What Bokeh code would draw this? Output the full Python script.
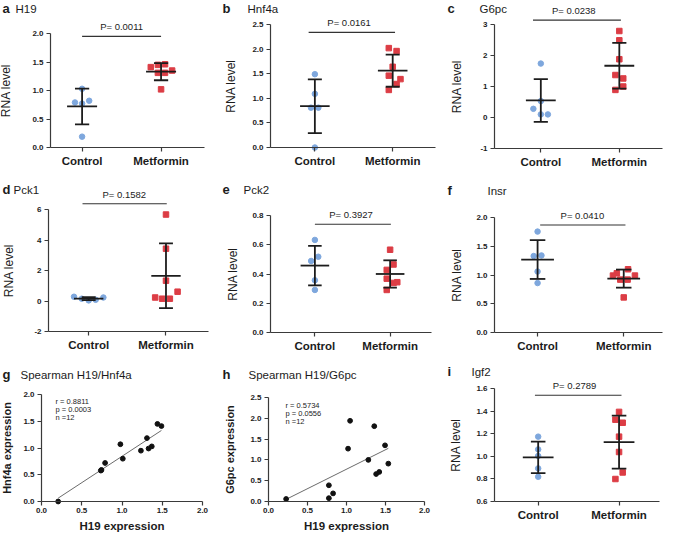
import numpy as np
from bokeh.plotting import figure
from bokeh.models import Range1d, FixedTicker, PrintfTickFormatter, Label
from bokeh.layouts import row, column
from bokeh.embed import file_html
from bokeh.resources import INLINE

categories = ["Control", "Metformin"]

# ---- data ----
# a  H19
h19_ctrl = [1.03, 0.79, 0.77, 0.82, 0.19]
h19_ctrl_jit = [0.0, -0.09, 0.0, 0.09, 0.0]
h19_met = [1.41, 1.45, 1.46, 1.31, 1.31, 1.35, 1.02]
h19_met_jit = [-0.13, -0.04, 0.05, -0.04, 0.05, 0.14, 0.0]
h19_p = "P= 0.0011"

# b  Hnf4a
hnf4a_ctrl = [1.49, 1.09, 0.81, 0.81, 0.0]
hnf4a_ctrl_jit = [0.0, 0.0, -0.05, 0.045, 0.0]
hnf4a_met = [2.02, 1.96, 1.64, 1.46, 1.39, 1.29, 1.17]
hnf4a_met_jit = [-0.05, 0.05, 0.0, -0.05, 0.1, 0.05, -0.05]
hnf4a_p = "P= 0.0161"

# c  G6pc
g6pc_ctrl = [1.74, 0.53, 0.28, 0.10, 0.10]
g6pc_ctrl_jit = [0.0, 0.0, -0.095, 0.0, 0.09]
g6pc_met = [2.79, 2.49, 1.88, 1.37, 1.26, 0.89, 1.00]
g6pc_met_jit = [0.0, 0.0, 0.0, -0.05, 0.05, -0.05, 0.05]
g6pc_p = "P= 0.0238"

# d  Pck1
pck1_ctrl = [0.28, 0.15, 0.04, 0.08, 0.23]
pck1_ctrl_jit = [-0.19, -0.09, 0.0, 0.09, 0.19]
pck1_met = [5.67, 3.43, 1.33, 0.61, 0.23, 0.15, 0.15]
pck1_met_jit = [0.0, 0.0, 0.0, 0.15, -0.14, -0.05, 0.05]
pck1_p = "P= 0.1582"

# e  Pck2
pck2_ctrl = [0.633, 0.518, 0.489, 0.357, 0.291]
pck2_ctrl_jit = [0.0, 0.045, -0.05, 0.0, 0.0]
pck2_met = [0.566, 0.465, 0.428, 0.368, 0.339, 0.344, 0.291]
pck2_met_jit = [0.0, 0.045, -0.045, -0.045, 0.045, 0.095, -0.045]
pck2_p = "P= 0.3927"

# f  Insr
insr_ctrl = [1.755, 1.33, 1.34, 1.06, 0.86]
insr_ctrl_jit = [0.0, -0.045, 0.045, 0.0, 0.0]
insr_met = [1.10, 1.03, 0.99, 0.99, 0.92, 0.92, 0.61]
insr_met_jit = [0.05, -0.08, -0.125, 0.13, -0.04, 0.045, 0.0]
insr_p = "P= 0.0410"

# i  Igf2
igf2_ctrl = [1.174, 1.061, 1.003, 0.893, 0.819]
igf2_ctrl_jit = [0.0, 0.0, 0.0, 0.0, 0.0]
igf2_met = [1.393, 1.324, 1.297, 1.174, 1.038, 0.857, 0.799]
igf2_met_jit = [0.0, -0.045, 0.045, 0.0, 0.0, 0.045, -0.045]
igf2_p = "P= 0.2789"

# g  Spearman H19/Hnf4a
g_h19 = [0.207, 0.737, 0.745, 0.79, 0.98, 1.01, 1.235, 1.31, 1.33, 1.37, 1.44, 1.49]
g_hnf4a = [0.0, 0.578, 0.59, 0.72, 1.07, 0.80, 0.95, 1.185, 0.99, 1.03, 1.45, 1.41]
g_stats = ["r = 0.8811", "p = 0.0003", "n =12"]

# h  Spearman H19/G6pc
h_h19 = [0.226, 0.774, 0.774, 0.828, 1.02, 1.046, 1.28, 1.356, 1.38, 1.42, 1.494, 1.536]
h_g6pc = [0.06, 0.39, 0.08, 0.195, 1.27, 1.94, 1.0, 1.81, 0.66, 0.71, 1.35, 0.91]
h_stats = ["r = 0.5734", "p = 0.0556", "n =12"]

# ---- styling ----
FONT = "Liberation Sans"
INK = "#1c1c1c"
AX = "#3a3a3a"
BLUE = "#7ea7dd"
RED = "#dc3d45"


def style_axis(ax):
    ax.axis_line_color = AX
    ax.axis_line_width = 1.2
    ax.major_tick_line_color = AX
    ax.major_tick_line_width = 1.2
    ax.major_tick_in = 0
    ax.major_tick_out = 4
    ax.minor_tick_line_color = None
    ax.major_label_text_font = FONT
    ax.major_label_text_font_style = "bold"
    ax.major_label_text_font_size = "8px"
    ax.major_label_text_color = INK
    ax.major_label_standoff = 3
    ax.axis_label_text_font = FONT
    ax.axis_label_text_color = INK


def base(L):
    """Frame fills the whole panel; axes are pinned with fixed_location."""
    W, H = L["W"], L["H"]
    xr0, xr1 = L["x"]
    lo, hi = L["y"]
    ppx = (L["right"] - L["left"]) / (xr1 - xr0)
    ppy = (L["bottom"] - L["top_tick"]) / (hi - lo)
    x_range = Range1d(xr0 - L["left"] / ppx, xr1 + (W - L["right"]) / ppx)
    y_range = Range1d(lo - (H - L["bottom"]) / ppy, hi + L["top_tick"] / ppy)
    p = figure(width=W, height=H, x_range=x_range, y_range=y_range,
               output_backend="svg", toolbar_location=None, min_border=0)
    p.outline_line_color = None
    p.xgrid.visible = False
    p.ygrid.visible = False
    p.background_fill_color = "white"
    p.border_fill_color = "white"
    style_axis(p.xaxis[0])
    style_axis(p.yaxis[0])
    p.yaxis.fixed_location = xr0
    p.xaxis.fixed_location = lo
    ticks = [round(lo + k * L["step"], 6) for k in range(int(round((hi - lo) / L["step"])) + 1)]
    p.yaxis.ticker = FixedTicker(ticks=ticks)
    p.yaxis.formatter = PrintfTickFormatter(format=L["fmt"])
    p.yaxis.bounds = (lo, hi)
    p.xaxis.bounds = (xr0, xr1)
    # panel letter and title
    ty = H - L["title_y"]
    p.add_layout(Label(x=2, y=ty, x_units="screen", y_units="screen",
                       text=L["letter"], text_font=FONT, text_font_style="bold",
                       text_font_size="13px", text_baseline="middle", text_color=INK))
    p.add_layout(Label(x=L["gene_x"], y=ty, x_units="screen", y_units="screen",
                       text=L["gene"], text_font=FONT, text_font_size="11.5px",
                       text_baseline="middle", text_color=INK))
    return p


def cat_panel(L, ctrl, ctrl_jit, met, met_jit, ptext):
    p = base(L)
    p.xaxis.ticker = FixedTicker(ticks=[1, 2])
    p.xaxis.major_label_overrides = {i + 1: c for i, c in enumerate(categories)}
    p.xaxis.major_label_text_font_size = "11.5px"
    p.xaxis.major_label_standoff = 3
    p.yaxis.axis_label = "RNA level"
    p.yaxis.axis_label_text_font_size = "12px"
    p.yaxis.axis_label_text_font_style = "normal"
    p.yaxis.axis_label_standoff = L["ylab_standoff"]

    p.scatter([1 + j for j in ctrl_jit], ctrl, marker="circle", size=5.5,
              fill_color=BLUE, line_color=BLUE)
    p.scatter([2 + j for j in met_jit], met, marker="square", size=5.5,
              fill_color=RED, line_color=RED)

    x0, y0, x1, y1 = [], [], [], []
    for k, vals in enumerate([ctrl, met]):
        xc = k + 1
        m = float(np.mean(vals))
        s = float(np.std(vals, ddof=1))
        for a, b, c, d in [(xc - 0.19, m, xc + 0.19, m),
                           (xc, m - s, xc, m + s),
                           (xc - 0.09, m + s, xc + 0.09, m + s),
                           (xc - 0.09, m - s, xc + 0.09, m - s)]:
            x0.append(a); y0.append(b); x1.append(c); y1.append(d)
    p.segment(x0=x0, y0=y0, x1=x1, y1=y1, line_color=INK, line_width=1.8)

    # significance bar
    p.segment(x0=[L["bar"][0]], y0=[L["bar_y"]], x1=[L["bar"][1]], y1=[L["bar_y"]],
              line_color="#333333", line_width=1.1)
    p.add_layout(Label(x=L["p_x"], y=L["bar_y"], y_offset=9.5, text=ptext,
                       text_font=FONT, text_font_size="9.5px", text_align="center",
                       text_baseline="middle", text_color=INK))
    return p


def corr_panel(L, xs, ys, stats, ylabel):
    p = base(L)
    xt = [round(k * 0.5, 2) for k in range(5)]
    p.xaxis.ticker = FixedTicker(ticks=xt)
    p.xaxis.formatter = PrintfTickFormatter(format="%.1f")
    p.xaxis.major_label_standoff = 2
    p.xaxis.axis_label = "H19 expression"
    p.xaxis.axis_label_text_font_size = "11.5px"
    p.xaxis.axis_label_text_font_style = "bold"
    p.xaxis.axis_label_standoff = 4
    p.yaxis.axis_label = ylabel
    p.yaxis.axis_label_text_font_size = "11px"
    p.yaxis.axis_label_text_font_style = "bold"
    p.yaxis.axis_label_standoff = L["ylab_standoff"]

    slope, icpt = np.polyfit(xs, ys, 1)
    xa, xb = min(xs), max(xs)
    p.line([xa, xb], [icpt + slope * xa, icpt + slope * xb], line_color="#5a5a5a", line_width=0.9)
    p.scatter(xs, ys, marker="circle", size=4.8, fill_color="#111111", line_color="#111111")
    for k, t in enumerate(stats):
        p.add_layout(Label(x=L["stat_x"], y=L["H"] - L["stat_y"] - k * 8,
                           x_units="screen", y_units="screen", text=t, text_font=FONT,
                           text_font_size="7.5px", text_baseline="middle", text_color=INK))
    return p


A = dict(W=220, H=175, left=50, right=204, top_tick=33, bottom=147, x=(0.6, 2.55), y=(0, 2),
         step=0.5, fmt="%.1f", letter="a", gene="H19", gene_x=15, title_y=8,
         p_x=1.5, bar_y=1.95, bar=(1.0, 2.0), ylab_standoff=16)
B = dict(W=225, H=175, left=50, right=215, top_tick=24, bottom=147, x=(0.43, 2.55), y=(0, 2.5),
         step=0.5, fmt="%.1f", letter="b", gene="Hnf4a", gene_x=27, title_y=8,
         p_x=1.44, bar_y=2.34, bar=(0.92, 2.03), ylab_standoff=11)
C = dict(W=224, H=175, left=49, right=217, top_tick=24, bottom=148, x=(0.41, 2.55), y=(-1, 3),
         step=1, fmt="%d", letter="c", gene="G6pc", gene_x=34, title_y=8,
         p_x=1.42, bar_y=3.14, bar=(0.9, 2.02), ylab_standoff=13)
D = dict(W=220, H=181, left=48, right=208, top_tick=34, bottom=156, x=(0.48, 2.55), y=(-2, 6),
         step=2, fmt="%d", letter="d", gene="Pck1", gene_x=13, title_y=14,
         p_x=1.46, bar_y=6.38, bar=(0.92, 2.01), ylab_standoff=15)
E = dict(W=225, H=181, left=50, right=211, top_tick=40, bottom=157, x=(0.41, 2.55), y=(0, 0.8),
         step=0.2, fmt="%.1f", letter="e", gene="Pck2", gene_x=23, title_y=14,
         p_x=1.48, bar_y=0.74, bar=(1.0, 2.01), ylab_standoff=9)
F = dict(W=224, H=181, left=49, right=217, top_tick=42, bottom=157, x=(0.5, 2.45), y=(0, 2),
         step=0.5, fmt="%.1f", letter="f", gene="Insr", gene_x=42, title_y=15,
         p_x=1.52, bar_y=1.87, bar=(1.03, 2.02), ylab_standoff=9)
G = dict(W=220, H=177, left=41, right=202, top_tick=38, bottom=145, x=(0, 2), y=(0, 2),
         step=0.5, fmt="%.1f", letter="g", gene="Spearman H19/Hnf4a", gene_x=20, title_y=18,
         stat_x=55, stat_y=45, ylab_standoff=7)
Hh = dict(W=225, H=177, left=48, right=204, top_tick=41, bottom=145, x=(0, 2), y=(0, 2.5),
          step=0.5, fmt="%.1f", letter="h", gene="Spearman H19/G6pc", gene_x=28, title_y=18,
          stat_x=65, stat_y=49, ylab_standoff=11)
I = dict(W=224, H=177, left=49, right=214, top_tick=32, bottom=145, x=(0.46, 2.5), y=(0.6, 1.6),
         step=0.2, fmt="%.1f", letter="i", gene="Igf2", gene_x=26, title_y=15,
         p_x=1.45, bar_y=1.54, bar=(0.96, 2.03), ylab_standoff=10)

pa = cat_panel(A, h19_ctrl, h19_ctrl_jit, h19_met, h19_met_jit, h19_p)
pb = cat_panel(B, hnf4a_ctrl, hnf4a_ctrl_jit, hnf4a_met, hnf4a_met_jit, hnf4a_p)
pc = cat_panel(C, g6pc_ctrl, g6pc_ctrl_jit, g6pc_met, g6pc_met_jit, g6pc_p)
pd = cat_panel(D, pck1_ctrl, pck1_ctrl_jit, pck1_met, pck1_met_jit, pck1_p)
pe = cat_panel(E, pck2_ctrl, pck2_ctrl_jit, pck2_met, pck2_met_jit, pck2_p)
pf = cat_panel(F, insr_ctrl, insr_ctrl_jit, insr_met, insr_met_jit, insr_p)
pg = corr_panel(G, g_h19, g_hnf4a, g_stats, "Hnf4a expression")
ph = corr_panel(Hh, h_h19, h_g6pc, h_stats, "G6pc expression")
pi = cat_panel(I, igf2_ctrl, igf2_ctrl_jit, igf2_met, igf2_met_jit, igf2_p)

layout = column(row(pa, pb, pc), row(pd, pe, pf), row(pg, ph, pi))

open("out.html", "w").write(file_html(layout, INLINE))
